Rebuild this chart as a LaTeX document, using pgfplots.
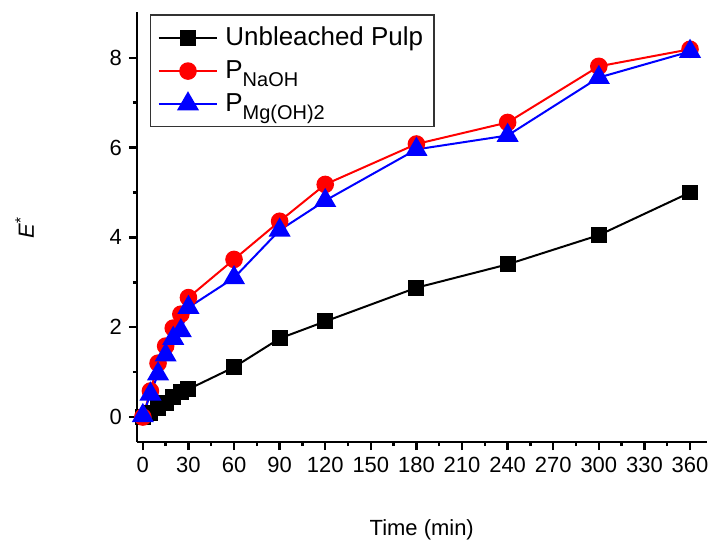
\documentclass[border=0pt]{standalone}
\usepackage{pgfplots}
\pgfplotsset{compat=1.18}
\usepackage{fontspec}
\setmainfont{Liberation Sans}
\newcommand\legstrut{\rule[-5.5pt]{0pt}{14.5pt}\hspace{1.5pt}}
\newcommand\sub[1]{\raisebox{-4pt}{\fontsize{10}{11}\selectfont #1}}

\begin{document}
\begin{tikzpicture}
\begin{axis}[
  name=ax,
  scale only axis,
  width=285.5pt,
  height=215.5pt,
  xmin=-4, xmax=371,
  ymin=-0.56, ymax=9.02,
  axis lines*=left,
  axis line style={line width=1.2pt},
  tick align=outside,
  tick style={line width=1.2pt, black},
  major tick length=4pt,
  minor tick length=2pt,
  xtick={0,30,...,360},
  ytick={0,2,...,8},
  minor x tick num=1,
  minor y tick num=1,
  tick label style={font=\fontsize{11}{13}\selectfont},
  /pgf/number format/assume math mode=true,
  xlabel={Time (min)},
  ylabel={\textit{E}\textsuperscript{*}},
  label style={font=\fontsize{11}{13}\selectfont},
  xlabel style={at={(0.5,0)}, anchor=north, yshift=-35pt},
  ylabel style={at={(0,0.5)}, anchor=south, yshift=48pt},
  legend style={at={(axis description cs:0.023,0.995)}, anchor=north west,
    draw=black!80, line width=0.7pt, font=\fontsize{13}{15}\selectfont,
    row sep=2pt, inner xsep=3.5pt, inner ysep=4pt},
  legend cell align=left,
  legend image code/.code={
    \draw[mark repeat=2, mark phase=2] plot coordinates {(0pt,0pt) (14.75pt,0pt) (29.5pt,0pt)};
  },
  every axis plot/.append style={line width=1pt},
]
\addplot[black, mark=square*, mark size=3.5pt] coordinates {
(0,0.0) (5,0.1) (10,0.2) (15,0.32) (20,0.45) (25,0.55) (30,0.62)
(60,1.11) (90,1.75) (120,2.13) (180,2.88) (240,3.4) (300,4.05) (360,5.0)};
\addlegendentry{\legstrut Unbleached Pulp\hspace{4pt}}
\addplot[red, mark=*, mark size=3.9pt] coordinates {
(0,0.0) (5,0.58) (10,1.2) (15,1.58) (20,1.98) (25,2.29) (30,2.66)
(60,3.51) (90,4.36) (120,5.18) (180,6.08) (240,6.56) (300,7.81) (360,8.19)};
\addlegendentry{\legstrut P\sub{NaOH}}
\addplot[blue, mark=triangle*, mark size=5.4pt] coordinates {
(0,0.03) (5,0.51) (10,0.96) (15,1.38) (20,1.75) (25,1.92) (30,2.44)
(60,3.1) (90,4.16) (120,4.82) (180,5.96) (240,6.27) (300,7.56) (360,8.14)};
\addlegendentry{\raisebox{0pt}[9pt][9.5pt]{\legstrut P\sub{Mg(OH)2}}}
\end{axis}
\path (ax.south west) ++(-68.5pt,-51.5pt) rectangle ([shift={(3.5pt,6pt)}]ax.north east);
\end{tikzpicture}
\end{document}
